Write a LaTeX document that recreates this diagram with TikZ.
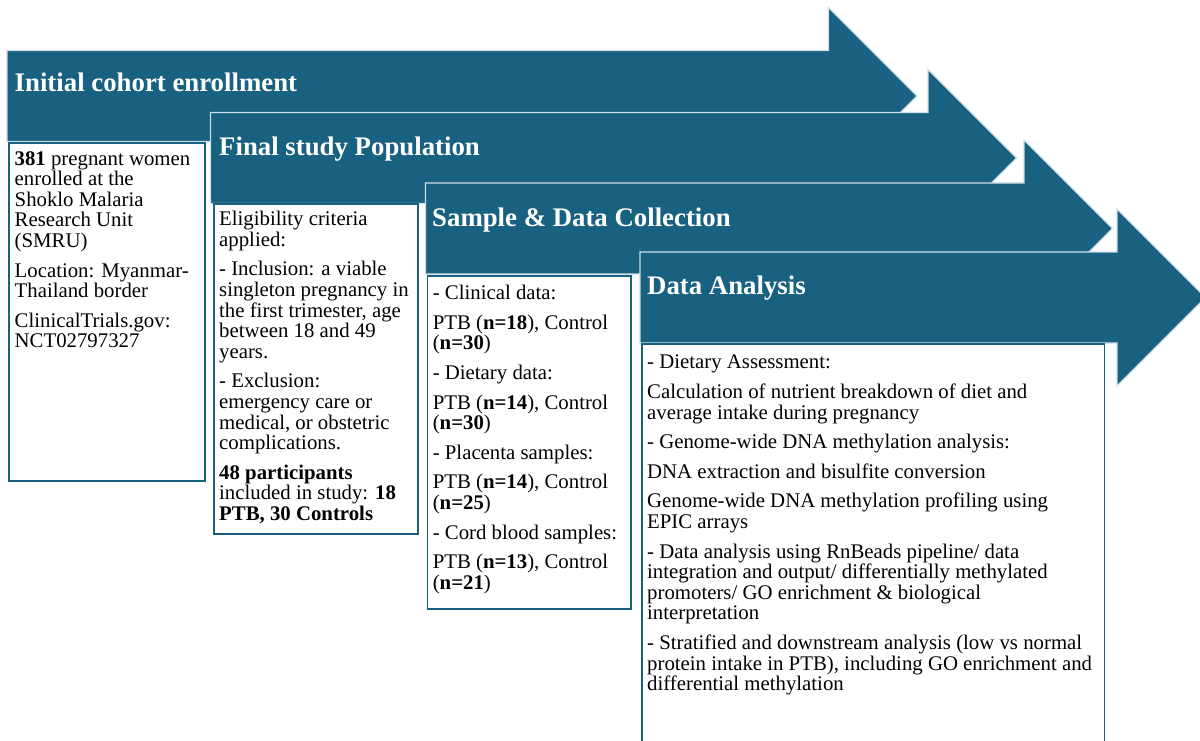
\documentclass[tikz,border=0pt]{standalone}
\usepackage{fontspec}
\setmainfont{Liberation Serif}
\definecolor{arrowblue}{RGB}{24,97,128}
\definecolor{edgelight}{RGB}{205,222,230}
\newcommand\procarrow[4]{%
  \fill[arrowfill] (#1,#2) -- (#3,#2) -- (#3,{#2-43}) -- ({#3+88.5},{#2+45.5})
    -- (#3,{#2+134}) -- (#3,{#2+91}) -- (#1,{#2+91}) -- cycle;
  \coordinate (#4) at (#1,#2);
}
\tikzset{
  arrowfill/.style={fill=arrowblue, draw=edgelight, line width=1.3pt, line join=miter},
  stagebox/.style={draw=arrowblue, fill=white, line width=1.8pt, anchor=north west, inner sep=0pt},
  title/.style={text=white, font=\fontsize{26.8}{30}\selectfont\bfseries, anchor=base west, inner sep=0pt},
  body/.style={text=black, font=\fontsize{20.8}{20.6}\selectfont, anchor=north west, inner sep=0pt, align=left},
}
\begin{document}
\begin{tikzpicture}[x=1pt,y=-1pt]
\useasboundingbox (0,0) rectangle (1200,740);
\clip (0,0) rectangle (1200,740);
\fill[white] (0,0) rectangle (1200,740);
% stage 1
\procarrow{7}{50.5}{828.5}{a1}
\node[title] (t1) at (14.5,91.7) {Initial cohort enrollment};
\node[stagebox, minimum width=196pt, minimum height=338pt] (b1) at (8,142) {};
\node[body] (x1) at (14.5,151) {\textbf{381} pregnant women\\ enrolled at the\\ Shoklo Malaria\\ Research Unit\\ (SMRU)\\[9pt] Location: Myanmar-\\ Thailand border\\[9pt] ClinicalTrials.gov:\\ NCT02797327};
% stage 2
\procarrow{210.5}{112.5}{928}{a2}
\node[title] (t2) at (219,155) {Final study Population};
\node[stagebox, minimum width=204pt, minimum height=330pt] (b2) at (213,203) {};
\node[body] (x2) at (219,211) {Eligibility criteria\\ applied:\\[9pt] - Inclusion: a viable\\ singleton pregnancy in\\ the first trimester, age\\ between 18 and 49\\ years.\\[9pt] - Exclusion:\\ emergency care or\\ medical, or obstetric\\ complications.\\[9pt] \textbf{48 participants}\\ included in study: \textbf{18}\\ \textbf{PTB, 30 Controls}};
% stage 3
\procarrow{425.5}{183}{1024}{a3}
\node[title] (t3) at (432,226) {Sample \& Data Collection};
\node[stagebox, minimum width=203.5pt, minimum height=333pt] (b3) at (426.5,275) {};
\node[body] (x3) at (432.6,285) {- Clinical data:\\[9pt] PTB (\textbf{n=18}), Control\\ (\textbf{n=30})\\[9pt] - Dietary data:\\[9pt] PTB (\textbf{n=14}), Control\\ (\textbf{n=30})\\[9pt] - Placenta samples:\\[9pt] PTB (\textbf{n=14}), Control\\ (\textbf{n=25})\\[9pt] - Cord blood samples:\\[9pt] PTB (\textbf{n=13}), Control\\ (\textbf{n=21})};
% stage 4
\procarrow{640}{252}{1117}{a4}
\node[title] (t4) at (647,294) {Data Analysis};
\node[stagebox, minimum width=462.5pt, minimum height=420pt] (b4) at (641,343) {};
\node[body] (x4) at (647,355) {- Dietary Assessment:\\[9pt] Calculation of nutrient breakdown of diet and\\ average intake during pregnancy\\[9pt] - Genome-wide DNA methylation analysis:\\[9pt] DNA extraction and bisulfite conversion\\[9pt] Genome-wide DNA methylation profiling using\\ EPIC arrays\\[9pt] - Data analysis using RnBeads pipeline/ data\\ integration and output/ differentially methylated\\ promoters/ GO enrichment \& biological\\ interpretation\\[9pt] - Stratified and downstream analysis (low vs normal\\ protein intake in PTB), including GO enrichment and\\ differential methylation};
\end{tikzpicture}
\end{document}
